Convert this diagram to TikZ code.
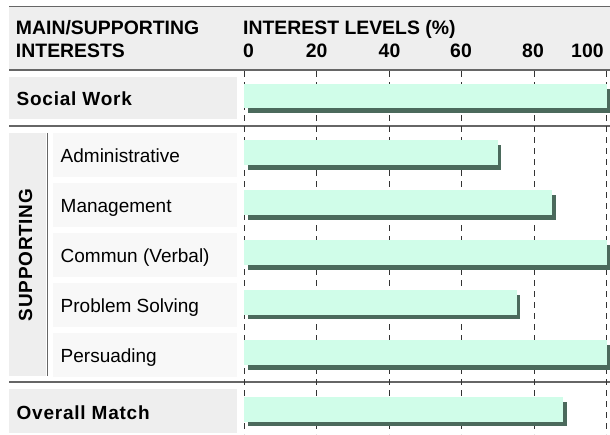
\documentclass[tikz,border=0pt]{standalone}
\usepackage{fontspec}
\setmainfont{Liberation Sans}
\newfontfamily\spacedfont[LetterSpace=4]{Liberation Sans}
\definecolor{headbg}{HTML}{EEEEEE}
\definecolor{rowbg}{HTML}{F8F8F8}
\definecolor{barfill}{HTML}{D0FDE9}
\definecolor{barshadow}{HTML}{4B6A5C}
\definecolor{rulecol}{HTML}{666666}
\definecolor{gridcol}{HTML}{333333}
\tikzset{
  headtxt/.style={inner sep=0pt, anchor=base west, font=\fontsize{19.4}{22}\selectfont\bfseries},
  numtxt/.style={inner sep=0pt, anchor=base, font=\fontsize{19.4}{22}\selectfont\bfseries},
  maintxt/.style={inner sep=0pt, anchor=base west, font=\spacedfont\fontsize{19}{22}\selectfont\bfseries},
  subtxt/.style={inner sep=0pt, anchor=base west, font=\fontsize{19}{22}\selectfont},
  hrule/.style={draw=rulecol, line width=1.6pt},
  gridline/.style={draw=gridcol, line width=1pt, dash pattern=on 6pt off 5pt},
  lightbar/.style={fill=barfill},
  shadowbar/.style={fill=barshadow}
}
\newcommand\drawmybar[3]{% top y, percent, height
  \fill[shadowbar] (247.5,#1+4.5) rectangle ({244+3.625*#2+3.5},#1+#3+4.5);
  \fill[lightbar] (244,#1) rectangle ({244+3.625*#2},#1+#3);
}
\begin{document}
\begin{tikzpicture}[x=1pt,y=-1pt]
\useasboundingbox (0,0) rectangle (610,434);
% header
\fill[headbg] (9,6.5) rectangle (610,70);
\draw[draw=rulecol, line width=1.2pt] (9,6.5) -- (610,6.5);
% label backgrounds
\fill[headbg] (9,76.7) rectangle (236.7,119.3);
\fill[headbg] (9,133) rectangle (46,376);
\foreach \t in {133.3,183.3,233.3,283.3,333.3}
  \fill[rowbg] (53.3,\t) rectangle (236.7,\t+43.4);
\fill[headbg] (9,389) rectangle (236.7,432.7);
\draw[draw=rulecol, line width=1.4pt] (47.6,132.8) -- (47.6,376);
% horizontal rules
\draw[hrule] (9,70) -- (610,70);
\draw[hrule] (9,125.8) -- (610,125.8);
\draw[hrule] (9,381.8) -- (610,381.8);
% grid lines
\foreach \x in {244,316.7,389.2,461.7,534.3,606.8}
  \draw[gridline] (\x,71) -- (\x,434);
% bars
\drawmybar{84}{100}{24.3}
\drawmybar{140}{70}{25}
\drawmybar{190}{85}{25}
\drawmybar{240}{100}{25}
\drawmybar{290}{75.3}{24.5}
\drawmybar{340}{100}{25}
\drawmybar{397.3}{88}{24.4}
% header texts
\node[headtxt] (h1) at (15.8,34) {MAIN/SUPPORTING};
\node[headtxt] (h2) at (15.8,57.3) {INTERESTS};
\node[headtxt] (h3) at (243,34) {INTEREST LEVELS (\%)};
\node[numtxt, anchor=base west] (n0) at (243,57.3) {0};
\node[numtxt] (n20) at (316.7,57.3) {20};
\node[numtxt] (n40) at (389.5,57.3) {40};
\node[numtxt] (n60) at (461,57.3) {60};
\node[numtxt] (n80) at (533,57.3) {80};
\node[numtxt, anchor=base east] (n100) at (603.8,57.3) {100};
% labels
\node[maintxt] (sw) at (16.5,105) {Social Work};
\node[maintxt, anchor=center, rotate=90] (sup) at (25.5,255) {SUPPORTING};
\node[subtxt] (l1) at (60.5,162.7) {Administrative};
\node[subtxt] (l2) at (60.5,212.7) {Management};
\node[subtxt] (l3) at (60.5,262.7) {Commun (Verbal)};
\node[subtxt] (l4) at (60.5,312.7) {Problem Solving};
\node[subtxt] (l5) at (60.5,362.7) {Persuading};
\node[maintxt] (om) at (16.5,419.3) {Overall Match};
\end{tikzpicture}
\end{document}
